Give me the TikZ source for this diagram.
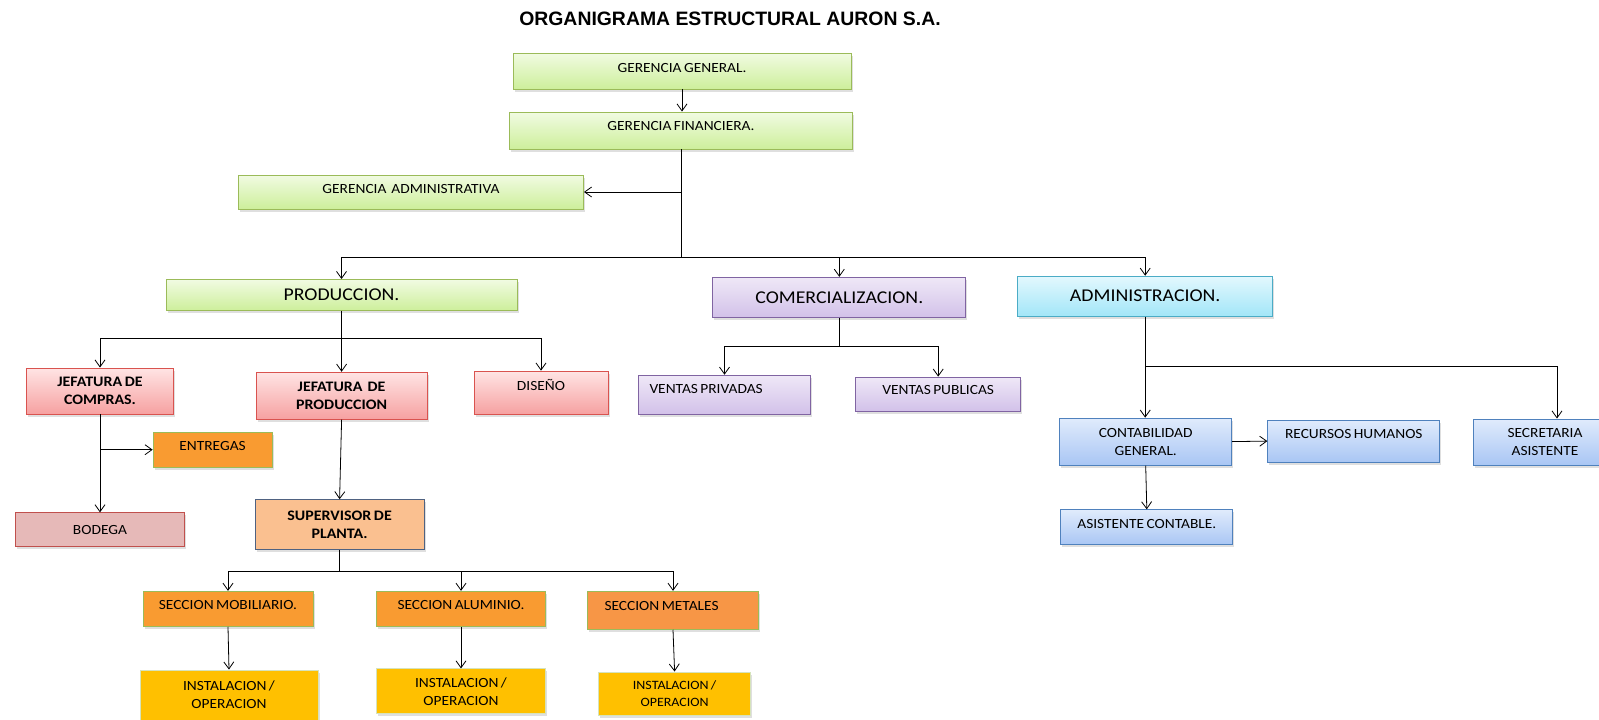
\documentclass[tikz,border=0pt]{standalone}
\usepackage{fontspec}
\setmainfont{Carlito}[FakeStretch=1.1, WordSpace=0.7]
\newfontfamily\titlefont{Liberation Sans}
\usepackage{tikz}
\usetikzlibrary{arrows.meta,shadows}
\definecolor{greentop}{HTML}{F1FBE2}
\definecolor{greenbot}{HTML}{CDEF9B}
\definecolor{greenedge}{HTML}{9BBB59}
\definecolor{pinktop}{HTML}{FFE4E4}
\definecolor{pinkbot}{HTML}{F6A1A1}
\definecolor{pinkedge}{HTML}{D9534F}
\definecolor{purptop}{HTML}{EFE8F7}
\definecolor{purpbot}{HTML}{D2C1E9}
\definecolor{purpedge}{HTML}{8064A2}
\definecolor{cyantop}{HTML}{E3F8FE}
\definecolor{cyanbot}{HTML}{A2E6F8}
\definecolor{cyanedge}{HTML}{4BACC6}
\definecolor{bluetop}{HTML}{E0EBFC}
\definecolor{bluebot}{HTML}{A9C6F4}
\definecolor{blueedge}{HTML}{4F81BD}
\definecolor{orangefill}{HTML}{F99B31}
\definecolor{metalfill}{HTML}{F79646}
\definecolor{peachfill}{HTML}{FAC090}
\definecolor{peachedge}{HTML}{4F6281}
\definecolor{rosefill}{HTML}{E6B9B8}
\definecolor{roseedge}{HTML}{C0504D}
\definecolor{goldfill}{HTML}{FFC000}
\definecolor{goldedge}{HTML}{D6E3BC}
\tikzset{
  orgbox/.style={
    rectangle, draw, line width=0.9pt, align=center, inner sep=2pt,
    font=\fontsize{14}{18}\selectfont,
    drop shadow={opacity=0.25, shadow xshift=1.5pt, shadow yshift=-2.5pt}
  },
  boxsize/.style 2 args={minimum width=#1pt, minimum height=#2pt},
  lift/.style={text depth=#1pt},
  bigtext/.style={font=\fontsize{18}{22}\selectfont},
  boldtext/.style={font=\fontsize{14.5}{18}\selectfont\bfseries},
  greenbox/.style={orgbox, draw=greenedge, top color=greentop, bottom color=greenbot},
  pinkbox/.style={orgbox, draw=pinkedge, top color=pinktop, bottom color=pinkbot},
  purplebox/.style={orgbox, draw=purpedge, top color=purptop, bottom color=purpbot},
  cyanbox/.style={orgbox, draw=cyanedge, top color=cyantop, bottom color=cyanbot},
  bluebox/.style={orgbox, draw=blueedge, top color=bluetop, bottom color=bluebot},
  orangebox/.style={orgbox, draw=greenedge, fill=orangefill},
  metalbox/.style={orgbox, draw=greenedge, fill=metalfill},
  peachbox/.style={orgbox, draw=peachedge, fill=peachfill},
  rosebox/.style={orgbox, draw=roseedge, fill=rosefill},
  goldbox/.style={orgbox, draw=goldedge, fill=goldfill},
  titletext/.style={font=\titlefont\bfseries\fontsize{19.4}{22}\selectfont},
  orgarrow/.style={-{Straight Barb[length=7pt,width=10pt]}, line width=0.8pt},
  orgline/.style={line width=0.8pt},
}

\begin{document}
\begin{tikzpicture}[x=1pt, y=-1pt]
  \useasboundingbox (0,0) rectangle (1599,720);
  \clip (0,0) rectangle (1599,720);
  \node[titletext] (title) at (730,19) {ORGANIGRAMA ESTRUCTURAL AURON S.A.};

  % gerencias
  \node[greenbox, boxsize={338}{36}, lift=7] (gg) at (682,71) {GERENCIA GENERAL.};
  \node[greenbox, boxsize={343}{37}, lift=10] (gf) at (681,130.5) {GERENCIA FINANCIERA.};
  \node[greenbox, boxsize={345}{34}, lift=7] (ga) at (411,192) {GERENCIA\ \ ADMINISTRATIVA};

  % departamentos
  \node[greenbox, bigtext, boxsize={351}{31}] (prod) at (341.5,295) {PRODUCCION.};
  \node[purplebox, bigtext, boxsize={253}{40}] (com) at (839.3,297.3) {COMERCIALIZACION.};
  \node[cyanbox, bigtext, boxsize={255}{40}] (adm) at (1145.2,296.2) {ADMINISTRACION.};

  % produccion
  \node[pinkbox, boldtext, boxsize={147}{46}] (jcomp) at (100,391) {JEFATURA DE\\COMPRAS.};
  \node[pinkbox, boldtext, boxsize={171}{47}] (jprod) at (341.6,395.7) {JEFATURA\ \ DE\\PRODUCCION};
  \node[pinkbox, boxsize={134}{43}, lift=16] (dis) at (541,392.6) {DISEÑO};
  \node[orangebox, boxsize={119}{35}, lift=8] (ent) at (212.6,449.7) {ENTREGAS};
  \node[rosebox, boxsize={169}{34}] (bod) at (100,529.8) {BODEGA};
  \node[peachbox, boldtext, boxsize={169}{50}] (sup) at (339.6,524.7) {SUPERVISOR DE\\PLANTA.};
  \node[orangebox, boxsize={170}{35}, lift=8] (smob) at (228,608.8) {SECCION MOBILIARIO.};
  \node[orangebox, boxsize={169}{35}, lift=8] (salu) at (461,608.8) {SECCION ALUMINIO.};
  \node[metalbox, boxsize={171}{38}, lift=9, text width=137pt, inner xsep=17pt, align=left] (smet) at (673,610.3) {\spaceskip=0pt SECCION METALES};
  \node[goldbox, boxsize={178}{50}] (inst1) at (229,695) {INSTALACION /\\OPERACION};
  \node[goldbox, boxsize={169}{45}] (inst2) at (461,691.4) {INSTALACION /\\OPERACION};
  \node[goldbox, boxsize={152}{43}, font=\fontsize{12.7}{16.5}\selectfont] (inst3) at (674.6,693.5) {INSTALACION /\\OPERACION};

  % comercializacion
  \node[purplebox, boxsize={172}{39}, lift=12, text width=150pt, inner xsep=11pt, align=left] (vpriv) at (724.5,394.7) {\spaceskip=0pt VENTAS PRIVADAS};
  \node[purplebox, boxsize={165}{34}, lift=9] (vpub) at (938.2,394.1) {VENTAS PUBLICAS};

  % administracion
  \node[bluebox, boxsize={172}{47}] (cont) at (1145.7,441.6) {CONTABILIDAD\\GENERAL.};
  \node[bluebox, boxsize={172}{42}, lift=14] (rrhh) at (1353.8,441.1) {RECURSOS HUMANOS};
  \node[bluebox, boxsize={144}{46}] (sec) at (1545,442) {SECRETARIA\\ASISTENTE};
  \node[bluebox, boxsize={172}{35}, lift=6] (asis) at (1146.8,527.3) {ASISTENTE CONTABLE.};

  \coordinate (topbus) at (0,257);
  \coordinate (prodbus) at (0,338);
  \coordinate (supbus) at (0,571);
  \coordinate (combus) at (0,346);
  \coordinate (admbus) at (0,366);
  \coordinate (secin) at ([xshift=12pt]sec.north);

  \draw[orgarrow] (gg.south) -- (gg.south |- gf.north);
  \draw[orgline] (gf.south) -- (gf.south |- topbus);
  \draw[orgarrow] (gf.south |- ga.east) -- (ga.east);
  \draw[orgline] (prod.north |- topbus) -- (adm.north |- topbus);
  \foreach \n in {prod,com,adm}
    \draw[orgarrow] (\n.north |- topbus) -- (\n.north);

  \draw[orgline] (prod.south) -- (prod.south |- prodbus);
  \draw[orgline] (jcomp.north |- prodbus) -- (dis.north |- prodbus);
  \foreach \n in {jcomp,jprod,dis}
    \draw[orgarrow] (\n.north |- prodbus) -- (\n.north);
  \draw[orgarrow] (jcomp.south) -- (bod.north);
  \draw[orgarrow] (jcomp.south |- ent.west) -- (ent.west);
  \draw[orgarrow] (jprod.south) -- (sup.north);

  \draw[orgline] (sup.south) -- (sup.south |- supbus);
  \draw[orgline] (smob.north |- supbus) -- (smet.north |- supbus);
  \foreach \n in {smob,salu,smet}
    \draw[orgarrow] (\n.north |- supbus) -- (\n.north);
  \foreach \a/\b in {smob/inst1,salu/inst2,smet/inst3}
    \draw[orgarrow] (\a.south) -- (\b.north);

  \draw[orgline] (com.south) -- (com.south |- combus);
  \draw[orgline] (vpriv.north |- combus) -- (vpub.north |- combus);
  \foreach \n in {vpriv,vpub}
    \draw[orgarrow] (\n.north |- combus) -- (\n.north);

  \draw[orgarrow] (adm.south) -- (adm.south |- cont.north);
  \draw[orgarrow] (adm.south |- admbus) -| (secin);
  \draw[orgarrow] (cont.east) -- (rrhh.west);
  \draw[orgarrow] (cont.south) -- (asis.north);
\end{tikzpicture}
\end{document}
